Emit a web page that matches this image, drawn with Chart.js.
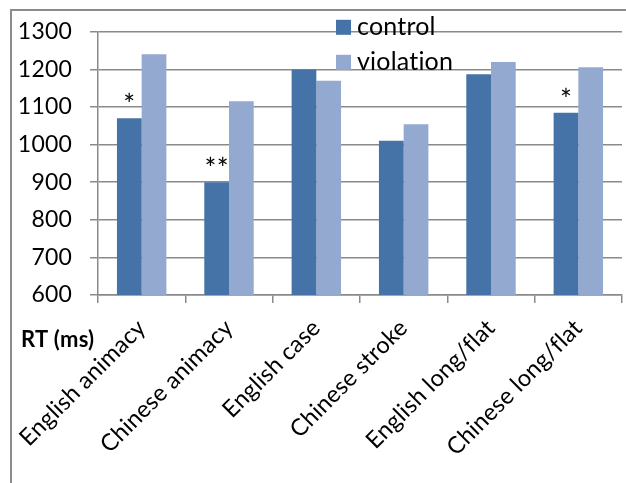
<!DOCTYPE html>
<html>
<head>
<title>RT (ms)</title>
<script src="https://cdn.jsdelivr.net/npm/chart.js"></script>
<style>
  html, body { margin: 0; padding: 0; background: #fff; overflow: hidden; }
  #frame { position: absolute; left: 10px; top: 9px; width: 700px; height: 600px; border-left: 2px solid #8c8c8c; border-top: 2px solid #8c8c8c; }
  #wrap { position: absolute; left: 0; top: 0; width: 626px; height: 483px; }
</style>
</head>
<body>
<div id="frame"></div>
<div id="wrap"><canvas id="rtChart" width="626" height="483"></canvas></div>
<script>
// datos
const categories = ['English animacy', 'Chinese animacy', 'English case', 'Chinese stroke', 'English long/flat', 'Chinese long/flat'];
const seriesNames = ['control', 'violation'];
const control = [1070, 900, 1200, 1010, 1187, 1085];
const violation = [1240, 1115, 1170, 1054, 1220, 1206];
const marks = ['*', '**', '', '', '', '*'];
const yTicks = [600, 700, 800, 900, 1000, 1100, 1200, 1300];
const axisTitle = 'RT (ms)';

const colors = ['#4673A7', '#94A9D0'];
const gridColor = '#8a8a8a';

// asteriscos, leyenda y titulo del eje
const extras = {
    id: 'extras',
    beforeDraw(chart) {
        // sin ligaduras (ti, fl)
        chart.ctx.letterSpacing = '0.2px';
    },
    afterDatasetsDraw(chart) {
        const ctx = chart.ctx;
        const area = chart.chartArea;
        ctx.save();
        ctx.fillStyle = '#000';

        ctx.font = '28px Lato';
        ctx.textAlign = 'center';
        ctx.textBaseline = 'alphabetic';
        chart.getDatasetMeta(0).data.forEach((bar, i) => {
            if (marks[i]) ctx.fillText(marks[i], bar.x, bar.y - 3);
        });

        ctx.font = '25px Lato';
        ctx.textAlign = 'left';
        ctx.textBaseline = 'middle';
        chart.data.datasets.forEach((ds, i) => {
            const top = area.top - 12 + i * 35;
            ctx.fillStyle = ds.backgroundColor;
            ctx.fillRect(area.left + 238, top, 15, 15);
            ctx.fillStyle = '#000';
            ctx.fillText(ds.label, area.left + 259, top + 7);
        });

        ctx.font = 'bold 22px Lato';
        ctx.textBaseline = 'alphabetic';
        ctx.fillText(axisTitle, 21, area.bottom + 52);
        ctx.restore();
    }
};

new Chart(document.getElementById('rtChart'), {
    type: 'bar',
    data: {
        labels: categories,
        datasets: [{
            label: seriesNames[0],
            data: control,
            backgroundColor: colors[0],
            barPercentage: 1,
            categoryPercentage: 0.566
        },
        {
            label: seriesNames[1],
            data: violation,
            backgroundColor: colors[1],
            barPercentage: 1,
            categoryPercentage: 0.566
        }]
    },
    options: {
        responsive: false,
        animation: false,
        layout: { padding: { top: 31, right: 4, left: 0, bottom: 0 } },
        plugins: {
            legend: { display: false },
            tooltip: { enabled: false }
        },
        scales: {
            x: {
                grid: { offset: true, drawOnChartArea: false, drawTicks: true, tickLength: 8, color: gridColor, lineWidth: 1.5 },
                border: { color: gridColor, width: 1.5 },
                ticks: {
                    color: '#000',
                    font: { family: 'Lato', size: 23.5 },
                    minRotation: 45,
                    maxRotation: 45,
                    autoSkip: false,
                    padding: 11
                },
                afterFit: s => { s.height = 188; }
            },
            y: {
                min: yTicks[0],
                max: yTicks[yTicks.length - 1],
                afterBuildTicks: s => { s.ticks = yTicks.map(v => ({ value: v })); },
                grid: { color: gridColor, lineWidth: 1.5, tickLength: 8 },
                border: { color: gridColor, width: 1.5 },
                ticks: {
                    color: '#000',
                    font: { family: 'Lato', size: 23 },
                    padding: 18,
                    callback: v => String(v)
                },
                afterFit: s => { s.width = 98; }
            }
        }
    },
    plugins: [extras]
});
</script>
</body>
</html>
